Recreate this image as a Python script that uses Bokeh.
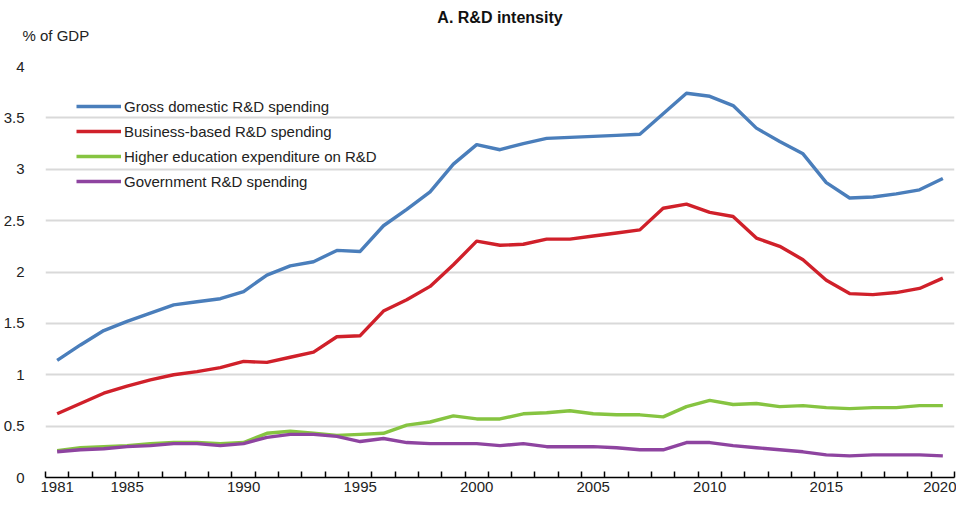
from bokeh.plotting import figure
from bokeh.models import Range1d, FixedTicker, Legend, LegendItem, Title
from bokeh.embed import file_html
from bokeh.resources import INLINE

FONT = "Liberation Sans"

years = list(range(1982, 2021))
gross = [1.14, 1.29, 1.43, 1.52, 1.60, 1.68, 1.71, 1.74, 1.81, 1.97,
         2.06, 2.10, 2.21, 2.20, 2.45, 2.61, 2.78, 3.05, 3.24, 3.19,
         3.25, 3.30, 3.31, 3.32, 3.33, 3.34, 3.54, 3.74, 3.71, 3.62,
         3.40, 3.27, 3.15, 2.87, 2.72, 2.73, 2.76, 2.80, 2.91]
business = [0.62, 0.72, 0.82, 0.89, 0.95, 1.00, 1.03, 1.07, 1.13, 1.12,
            1.17, 1.22, 1.37, 1.38, 1.62, 1.73, 1.86, 2.07, 2.30, 2.26,
            2.27, 2.32, 2.32, 2.35, 2.38, 2.41, 2.62, 2.66, 2.58, 2.54,
            2.33, 2.25, 2.12, 1.92, 1.79, 1.78, 1.80, 1.84, 1.94]
higher_ed = [0.26, 0.29, 0.30, 0.31, 0.33, 0.34, 0.34, 0.33, 0.34, 0.43,
             0.45, 0.43, 0.41, 0.42, 0.43, 0.51, 0.54, 0.60, 0.57, 0.57,
             0.62, 0.63, 0.65, 0.62, 0.61, 0.61, 0.59, 0.69, 0.75, 0.71,
             0.72, 0.69, 0.70, 0.68, 0.67, 0.68, 0.68, 0.70, 0.70]
government = [0.25, 0.27, 0.28, 0.30, 0.31, 0.33, 0.33, 0.31, 0.33, 0.39,
              0.42, 0.42, 0.40, 0.35, 0.38, 0.34, 0.33, 0.33, 0.33, 0.31,
              0.33, 0.30, 0.30, 0.30, 0.29, 0.27, 0.27, 0.34, 0.34, 0.31,
              0.29, 0.27, 0.25, 0.22, 0.21, 0.22, 0.22, 0.22, 0.21]

series_names = ["Gross domestic R&D spending", "Business-based R&D spending",
                "Higher education expenditure on R&D", "Government R&D spending"]
series_colors = ["#4a7ebb", "#d0202a", "#86c441", "#8e44a0"]

x_tick_pos = [1982, 1985, 1990, 1995, 2000, 2005, 2010, 2015, 2020]
x_tick_labels = ["1981", "1985", "1990", "1995", "2000", "2005", "2010", "2015", "2020"]
y_ticks = [0, 0.5, 1, 1.5, 2, 2.5, 3, 3.5, 4]
y_tick_labels = ["0", "0.5", "1", "1.5", "2", "2.5", "3", "3.5", "4"]

FW, FH = 909, 411
p = figure(frame_width=FW, frame_height=FH, output_backend="svg", toolbar_location=None,
           x_range=Range1d(years[0] - 0.5, years[-1] + 0.5), y_range=Range1d(0, 4),
           min_border_left=38, min_border_right=2, min_border_top=66, min_border_bottom=21)
p.outline_line_color = None
p.background_fill_color = "white"
p.border_fill_color = "white"

renderers = []
for vals, col in zip([gross, business, higher_ed, government], series_colors):
    r = p.line(years, vals, line_color=col, line_width=3.4, line_join="round")
    renderers.append(r)

# axes
p.xaxis.ticker = FixedTicker(ticks=x_tick_pos,
                             minor_ticks=[y - 0.5 for y in years] + [years[-1] + 0.5])
p.xaxis.major_label_overrides = dict(zip(x_tick_pos, x_tick_labels))
p.xaxis.major_tick_line_color = None
p.xaxis.major_tick_in = 0
p.xaxis.major_tick_out = 0
p.xaxis.minor_tick_in = 6
p.xaxis.minor_tick_out = 0
p.xaxis.minor_tick_line_color = "black"
p.xaxis.minor_tick_line_width = 1.5
p.xaxis.axis_line_color = "black"
p.xaxis.axis_line_width = 1.5
p.xaxis.major_label_standoff = 4
p.xaxis.axis_label_standoff = 0
p.xaxis.major_label_text_font = FONT
p.xaxis.major_label_text_font_size = "15px"
p.xaxis.major_label_text_color = "#222222"

p.yaxis.ticker = FixedTicker(ticks=y_ticks)
p.yaxis.major_label_overrides = dict(zip(y_ticks, y_tick_labels))
p.yaxis.axis_line_color = None
p.yaxis.major_tick_line_color = None
p.yaxis.minor_tick_line_color = None
p.yaxis.major_label_standoff = 15
p.yaxis.major_label_text_font = FONT
p.yaxis.major_label_text_font_size = "15px"
p.yaxis.major_label_text_color = "#222222"

p.xgrid.grid_line_color = None
p.ygrid.grid_line_color = "#d9d9d9"
p.ygrid.grid_line_width = 2

legend = Legend(items=[LegendItem(label=n, renderers=[r]) for n, r in zip(series_names, renderers)],
                location=(31, 286), glyph_width=45, glyph_height=20, label_height=20,
                spacing=5, padding=0, margin=0, label_standoff=3,
                label_text_font=FONT, label_text_font_size="15px", label_text_color="#222222",
                border_line_color=None, background_fill_alpha=0)
p.add_layout(legend, "center")

# unit note just above the frame (a blank second line lifts it to its place)
p.add_layout(Title(text="% of GDP\n ", align="left", offset=-23, standoff=0,
                   text_line_height=1.3, text_font=FONT, text_font_size="15px",
                   text_font_style="normal", text_color="#222222"), "above")
# panel title above it
p.add_layout(Title(text="A. R&D intensity", align="center", offset=0, standoff=0,
                   text_font=FONT, text_font_size="16px", text_font_style="bold",
                   text_color="#111111"), "above")

open("out.html", "w").write(file_html(p, INLINE))
